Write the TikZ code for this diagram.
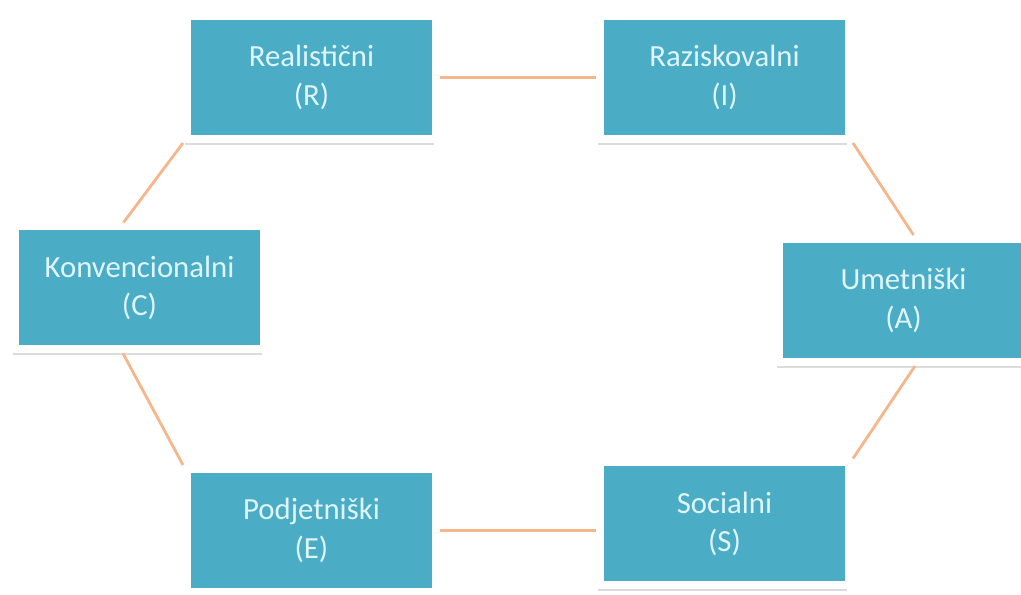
\documentclass[tikz,border=0pt]{standalone}
\usepackage{fontspec}
\setmainfont{Carlito}
\usepackage{tikz}
\usetikzlibrary{positioning,shadows}
\definecolor{boxteal}{RGB}{75,172,198}
\definecolor{boxtext}{RGB}{222,245,250}
\definecolor{linkpeach}{RGB}{245,182,140}
\tikzstyle{typ}  = [rectangle, fill=boxteal, draw=white, line width=0.16cm,
                    minimum width=4.98cm, minimum height=2.46cm, text=boxtext,
                    align=center, font=\fontsize{17.5}{22}\selectfont,
                    drop shadow={shadow xshift=-0.04cm, shadow yshift=-0.12cm,
                    opacity=0.2, fill=black!70}]
\tikzstyle{link} = [draw=linkpeach, line width=1.6pt]

\begin{document}
\begin{tikzpicture}[node distance=8.26cm]
		\useasboundingbox (0,0) rectangle (20.42,11.9);
		\node[typ] (R) at (6.23,10.35) {Realistični\\(R)};
		\node[typ, right of=R] (I) {Raziskovalni\\(I)};
		\node[typ] (C) at (2.79,6.14) {Konvencionalni\\(C)};
		\node[typ] (A) at (18.07,5.89) {Umetniški\\(A)};
		\node[typ, below of=R, node distance=9.06cm] (E) {Podjetniški\\(E)};
		\node[typ, right of=E, yshift=0.13cm] (S) {Socialni\\(S)};

		\draw[link] (R.east) -- (I.west);
		\draw[link] (I.south east) -- ([xshift=0.2cm]A.north);
		\draw[link] ([xshift=0.23cm]A.south) -- (S.north east);
		\draw[link] (E.east) -- (E.east -| S.west);
		\draw[link] ([xshift=-0.33cm]C.south) -- (E.north west);
		\draw[link] ([xshift=-0.32cm]C.north) -- (R.south west);
	\end{tikzpicture}
\end{document}
